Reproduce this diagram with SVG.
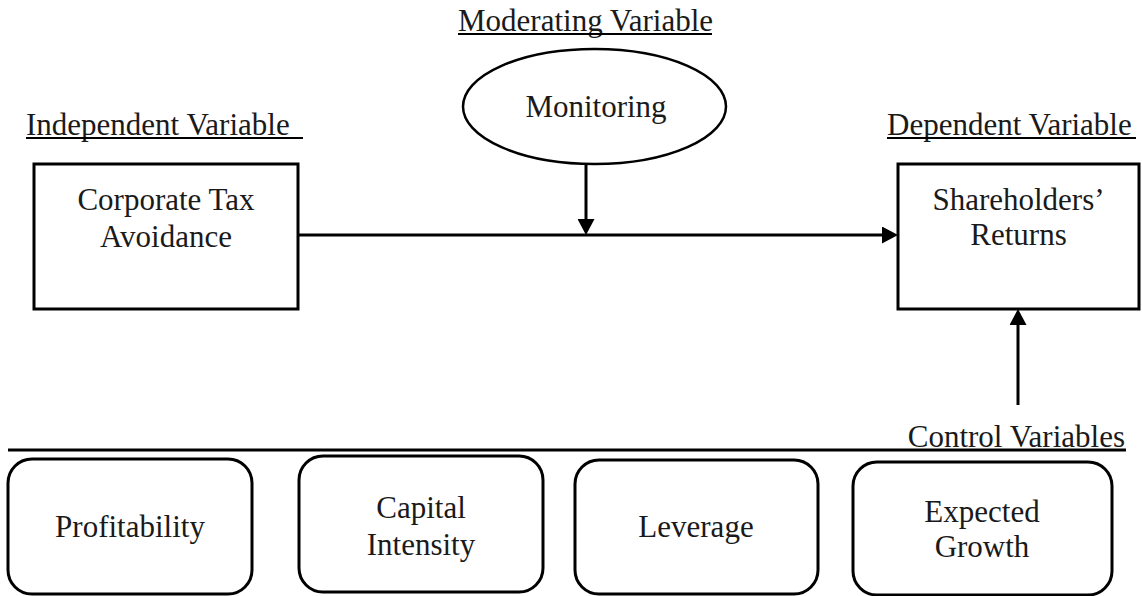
<svg xmlns="http://www.w3.org/2000/svg" width="1142" height="596" viewBox="0 0 1142 596">
  <style>
    .t { font-family: "Liberation Serif", "Times New Roman", serif; font-size: 31px; fill: #1a1a1a; }
    .c { text-anchor: middle; }
    .box { fill: #ffffff; stroke: #000000; stroke-width: 3; }
    .rbox { fill: #ffffff; stroke: #000000; stroke-width: 3; }
    .ul { stroke: #000000; stroke-width: 2; }
    .conn { stroke: #000000; stroke-width: 3; fill: none; }
  </style>
  <defs>
    <marker id="arr" markerUnits="userSpaceOnUse" markerWidth="16" markerHeight="17" refX="0" refY="8.5" orient="auto">
      <path d="M0,0 L16,8.5 L0,17 Z" fill="#000000"/>
    </marker>
  </defs>
  <rect width="1142" height="596" fill="#ffffff"/>

  <!-- Headers -->
  <g id="header-moderating">
    <text class="t" x="458" y="31">Moderating Variable</text>
    <line class="ul" x1="458" y1="34" x2="712" y2="34"/>
  </g>
  <g id="header-independent">
    <text class="t" x="26" y="135">Independent Variable</text>
    <line class="ul" x1="26" y1="138" x2="303" y2="138"/>
  </g>
  <g id="header-dependent">
    <text class="t" x="887" y="135">Dependent Variable</text>
    <line class="ul" x1="887" y1="138" x2="1136" y2="138"/>
  </g>
  <g id="header-control">
    <text class="t" x="1125" y="447" text-anchor="end">Control Variables</text>
  </g>

  <!-- Nodes -->
  <g id="node-monitoring">
    <ellipse cx="594.5" cy="106.5" rx="131.5" ry="57.5" fill="#ffffff" stroke="#000000" stroke-width="2.5"/>
    <text class="t c" x="596" y="117">Monitoring</text>
  </g>
  <g id="node-tax-avoidance">
    <rect class="box" x="34" y="164" width="264" height="145"/>
    <text class="t c" x="166" y="210">Corporate Tax</text>
    <text class="t c" x="166" y="247">Avoidance</text>
  </g>
  <g id="node-returns">
    <rect class="box" x="898" y="164" width="241" height="145"/>
    <text class="t c" x="1018.5" y="210">Shareholders’</text>
    <text class="t c" x="1018.5" y="245">Returns</text>
  </g>
  <g id="node-profitability">
    <rect class="rbox" x="8" y="459" width="244" height="135" rx="24" ry="24"/>
    <text class="t c" x="130" y="537">Profitability</text>
  </g>
  <g id="node-capital-intensity">
    <rect class="rbox" x="299" y="456" width="244" height="136" rx="24" ry="24"/>
    <text class="t c" x="421" y="518">Capital</text>
    <text class="t c" x="421" y="555">Intensity</text>
  </g>
  <g id="node-leverage">
    <rect class="rbox" x="575" y="460" width="243" height="134" rx="24" ry="24"/>
    <text class="t c" x="696" y="537">Leverage</text>
  </g>
  <g id="node-expected-growth">
    <rect class="rbox" x="853" y="462" width="259" height="133" rx="24" ry="24"/>
    <text class="t c" x="982" y="522">Expected</text>
    <text class="t c" x="982" y="557">Growth</text>
  </g>

  <!-- Connectors -->
  <g id="connectors">
    <line class="conn" x1="298" y1="235" x2="882" y2="235" marker-end="url(#arr)"/>
    <line class="conn" x1="586" y1="164" x2="586" y2="219" marker-end="url(#arr)"/>
    <line class="conn" x1="1018" y1="405" x2="1018" y2="325" marker-end="url(#arr)"/>
    <line class="conn" x1="8" y1="450" x2="1126" y2="450"/>
  </g>
</svg>
